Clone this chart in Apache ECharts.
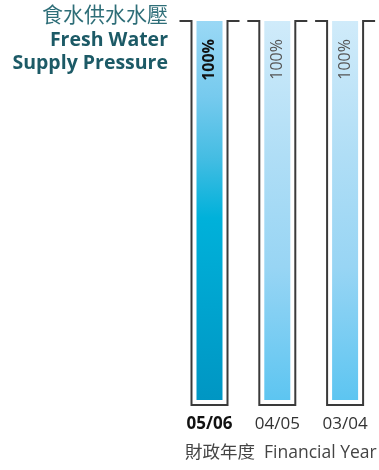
<!DOCTYPE html>
<html>
<head>
<meta charset="utf-8">
<script src="https://cdn.jsdelivr.net/npm/echarts@6/dist/echarts.min.js"></script>
<style>
html,body{margin:0;padding:0;background:#fff;}
#c{width:379px;height:470px;}
</style>
</head>
<body>
<div id="c"></div>
<script>
const categories = ['05/06', '04/05', '03/04'];
const values = [100, 100, 100];
const valueLabels = ['100%', '100%', '100%'];
const titleLines = ['食水供水水壓', 'Fresh Water', 'Supply Pressure'];
const axisTitle = '財政年度  Financial Year';

const FONT = '"Open Sans", "Noto Sans CJK TC", sans-serif';

const gradCurrent = new echarts.graphic.LinearGradient(0, 0, 0, 1, [
  {offset: 0, color: '#9ad8f5'},
  {offset: 0.2, color: '#76caee'},
  {offset: 0.36, color: '#45bde3'},
  {offset: 0.52, color: '#00b1da'},
  {offset: 1, color: '#0096c3'}
]);
const gradPast = new echarts.graphic.LinearGradient(0, 0, 0, 1, [
  {offset: 0, color: '#d0ebfa'},
  {offset: 0.35, color: '#b0def6'},
  {offset: 0.65, color: '#98d5f4'},
  {offset: 1, color: '#5dc5f1'}
]);

const chart = echarts.init(document.getElementById('c'), null, {renderer: 'canvas'});

const option = {
  animation: false,
  grid: {left: 175.6, top: 21, width: 212.25, height: 379, containLabel: false},
  xAxis: {
    type: 'category',
    data: categories,
    axisLine: {show: false},
    axisTick: {show: false},
    axisLabel: {
      interval: 0,
      margin: 16,
      fontFamily: FONT,
      fontSize: 17,
      color: '#333',
      formatter: function (v, i) { return i === 0 ? '{b|' + v + '}' : v; },
      rich: {b: {fontFamily: FONT, fontSize: 17, fontWeight: 'bold', color: '#111'}}
    }
  },
  yAxis: {type: 'value', min: 0, max: 100, show: false, splitLine: {show: false}},
  series: [
    {
      type: 'custom',
      data: values.map((v, i) => [i, v]),
      encode: {x: 0, y: 1},
      z: 1,
      renderItem: function (params, api) {
        const top = api.coord([api.value(0), api.value(1)]);
        const bot = api.coord([api.value(0), 0]);
        const cx = top[0];
        const hw = 18, tick = 12, drop = 5;
        return {
          type: 'polyline',
          shape: {points: [
            [cx - hw - tick, top[1]], [cx - hw, top[1]], [cx - hw, bot[1] + drop],
            [cx + hw, bot[1] + drop], [cx + hw, top[1]], [cx + hw + tick, top[1]]
          ]},
          style: {stroke: '#3a3a3a', lineWidth: 2, fill: null}
        };
      }
    },
    {
      type: 'bar',
      barWidth: 26,
      z: 2,
      data: values.map((v, i) => ({
        value: v,
        itemStyle: {color: i === 0 ? gradCurrent : gradPast},
        label: i === 0 ? {fontWeight: 'bold', color: '#111'} : {fontWeight: 'normal', color: '#555'}
      })),
      label: {
        show: true,
        position: [13, 18],
        rotate: 90,
        align: 'right',
        verticalAlign: 'middle',
        fontFamily: FONT,
        fontSize: 16,
        formatter: function (p) { return valueLabels[p.dataIndex]; }
      }
    }
  ],
  graphic: [
    {type: 'text', right: 379 - 168, top: 4, style: {text: titleLines[0], font: '21px "Noto Sans CJK TC", sans-serif', fill: '#2e6e78', textAlign: 'right'}},
    {type: 'text', right: 379 - 168, top: 31, style: {text: titleLines[1], font: 'bold 19.5px ' + FONT, fill: '#1c5a66', textAlign: 'right'}},
    {type: 'text', right: 379 - 168, top: 54, style: {text: titleLines[2], font: 'bold 19.5px ' + FONT, fill: '#1c5a66', textAlign: 'right'}},
    {type: 'text', left: 185, top: 444, style: {text: axisTitle, font: '17.5px ' + FONT, fill: '#444'}}
  ]
};
chart.setOption(option);
</script>
</body>
</html>
